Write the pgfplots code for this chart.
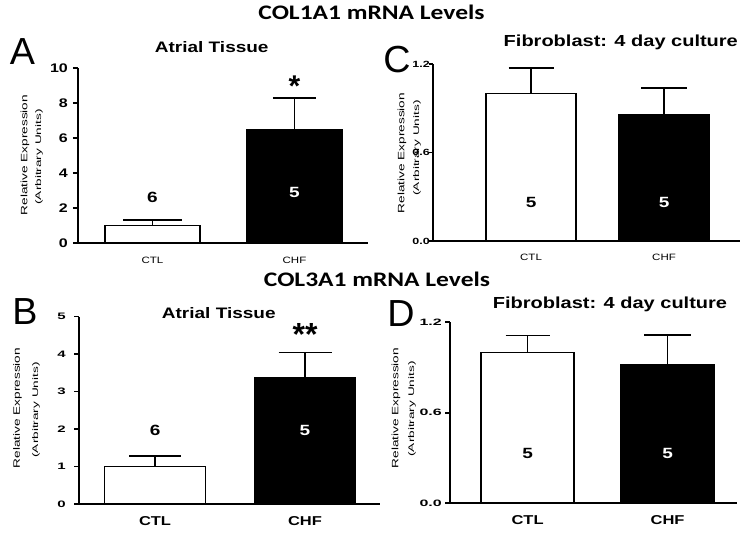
\documentclass[border=0pt]{standalone}
\usepackage{fontspec}
\setmainfont{Liberation Sans}
\newfontfamily\calibri{Carlito}
\usepackage{graphicx}
\usepackage{pgfplots}
\pgfplotsset{compat=1.18}
\newcommand{\fs}[1]{\fontsize{#1}{#1}\selectfont}

\pgfplotsset{
  panel/.style={
    scale only axis,
    anchor=south west,
    axis x line*=bottom, axis y line*=left,
    axis line style={-, line width=2pt},
    xtick={0,1}, xticklabels={CTL,CHF},
    x tick style={draw=none},
    y tick style={line width=1.6pt, black},
    tick align=outside, major tick length=5pt,
    ymin=0,
    yticklabel style={font=\bfseries\fs{16}, yscale=0.78, inner sep=1pt},
    clip=false,
  },
  toplab/.style={xticklabel style={font=\fs{11.5}, yscale=0.8, yshift=-8pt}},
  botlab/.style={xticklabel style={font=\bfseries\fs{16.5}, yscale=0.78, yshift=-6pt}},
  barw/.style={ybar, bar width=#1, draw=black, line width=1.8pt},
  eb/.style={error bars/.cd, y dir=plus, y explicit,
    error bar style={line width=1.8pt, black},
    error mark options={rotate=90, line width=1.8pt, mark size=#1, black}},
}

\begin{document}
\begin{tikzpicture}
\path[use as bounding box] (0pt,0pt) rectangle (747pt,534pt);

% ---------- Panel A ----------
\begin{axis}[panel, toplab, at={(78pt,291pt)}, width=290pt, height=175pt,
  xmin=-0.525, xmax=1.518, ymax=10, ytick={0,2,4,6,8,10},
  yticklabels={0,2,4,6,8,10},
  yticklabel style={xshift=-4pt}]
\addplot[barw=0.67, fill=white, eb=29.5pt] coordinates {(0,1.0) +- (0,0.31)};
\addplot[barw=0.67, fill=black, eb=21.5pt] coordinates {(1,6.46) +- (0,1.84)};
\node[font=\bfseries\fs{19}, yscale=0.78] at (axis cs:0,2.63) {6};
\node[font=\bfseries\fs{19}, yscale=0.78, text=white] at (axis cs:1,2.91) {5};
\node[font=\bfseries\fs{30}, anchor=base] at (axis cs:1,8.35) {*};
\end{axis}

% ---------- Panel C ----------
\begin{axis}[panel, toplab, at={(433pt,293pt)}, width=307pt, height=177pt,
  xmin=-0.737, xmax=1.571, ymax=1.2, ytick={0,0.6,1.2},
  yticklabels={0.0,0.6,1.2}, major tick length=4pt,
  yticklabel style={font=\bfseries\fs{12.5}, yscale=0.92, xshift=2pt}]
\addplot[barw=0.677, fill=white, eb=22.5pt] coordinates {(0,1.0) +- (0,0.175)};
\addplot[barw=0.677, fill=black, eb=23pt] coordinates {(1,0.854) +- (0,0.181)};
\node[font=\bfseries\fs{19}, yscale=0.78] at (axis cs:0,0.264) {5};
\node[font=\bfseries\fs{19}, yscale=0.78, text=white] at (axis cs:1,0.264) {5};
\end{axis}

% ---------- Panel B ----------
\begin{axis}[panel, botlab, at={(79pt,30pt)}, width=301pt, height=187.3pt,
  xmin=-0.507, xmax=1.5, ymax=5, ytick={0,1,2,3,4,5},
  yticklabels={0,1,2,3,4,5},
  yticklabel style={font=\bfseries\fs{15}, yscale=0.8, xshift=-7pt}]
\addplot[barw=0.673, fill=white, eb=26pt] coordinates {(0,1.0) +- (0,0.29)};
\addplot[barw=0.673, fill=black, eb=26.5pt] coordinates {(1,3.37) +- (0,0.675)};
\node[font=\bfseries\fs{19}, yscale=0.78] at (axis cs:0,1.97) {6};
\node[font=\bfseries\fs{19}, yscale=0.78, text=white] at (axis cs:1,1.97) {5};
\node[font=\bfseries\fs{32}, anchor=base] at (axis cs:1,4.22) {**};
\end{axis}

% ---------- Panel D ----------
\begin{axis}[panel, botlab, at={(450pt,30.7pt)}, width=287pt, height=181pt,
  xmin=-0.554, xmax=1.496, ymax=1.2, ytick={0,0.6,1.2},
  yticklabels={0.0,0.6,1.2},
  yticklabel style={font=\bfseries\fs{16}, yscale=0.74, xshift=-2pt}]
\addplot[barw=0.664, fill=white, eb=22pt] coordinates {(0,1.0) +- (0,0.113)};
\addplot[barw=0.664, fill=black, eb=23.5pt] coordinates {(1,0.92) +- (0,0.194)};
\node[font=\bfseries\fs{19}, yscale=0.78] at (axis cs:0,0.33) {5};
\node[font=\bfseries\fs{19}, yscale=0.78, text=white] at (axis cs:1,0.33) {5};
\end{axis}

% ---------- main titles ----------
\node[anchor=base, font=\calibri\bfseries\fs{25.5}, yscale=0.81, inner sep=0pt] at (371.5pt,514pt) {COL1A1 mRNA Levels};
\node[anchor=base, font=\calibri\bfseries\fs{25.5}, yscale=0.81, inner sep=0pt] at (377pt,247pt) {COL3A1 mRNA Levels};

% ---------- panel titles ----------
\node[anchor=base, font=\bfseries\fs{19}, yscale=0.8, inner sep=0pt] at (211.7pt,481.3pt) {Atrial Tissue};
\node[anchor=base, font=\bfseries\fs{19}, yscale=0.8, inner sep=0pt] at (218.8pt,215.7pt) {Atrial Tissue};
\node[anchor=base, font=\bfseries\fs{20}, yscale=0.8, inner sep=0pt] at (620.8pt,487.3pt) {Fibroblast: 4 day culture};
\node[anchor=base, font=\bfseries\fs{20}, yscale=0.8, inner sep=0pt] at (610pt,225.7pt) {Fibroblast: 4 day culture};

% ---------- panel letters ----------
\node[anchor=base, font=\fs{37.7}, inner sep=0pt] at (22.5pt,469pt) {A};
\node[anchor=base, font=\fs{37.7}, inner sep=0pt] at (25pt,209pt) {B};
\node[anchor=base, font=\fs{37.7}, inner sep=0pt] at (397pt,461.5pt) {C};
\node[anchor=base, font=\fs{37.7}, inner sep=0pt] at (401pt,207pt) {D};

% ---------- y labels ----------
\newcommand{\ylA}{\fs{13.6}\scalebox{1}[0.68]{Relative Expression}}
\newcommand{\ylB}{\fs{13.6}\scalebox{1}[0.6]{(Arbitrary Units)}}
\tikzset{yl/.style={rotate=90, inner sep=0pt}}
\node[yl] at (25pt,379pt) {\ylA};
\node[yl] at (39pt,377pt) {\ylB};
\node[yl] at (17.5pt,126pt) {\ylA};
\node[yl] at (36pt,124pt) {\ylB};
\node[yl] at (402pt,381pt) {\ylA};
\node[yl] at (417pt,386pt) {\ylB};
\node[yl] at (396pt,126pt) {\ylA};
\node[yl] at (412pt,125pt) {\ylB};
\end{tikzpicture}
\end{document}
